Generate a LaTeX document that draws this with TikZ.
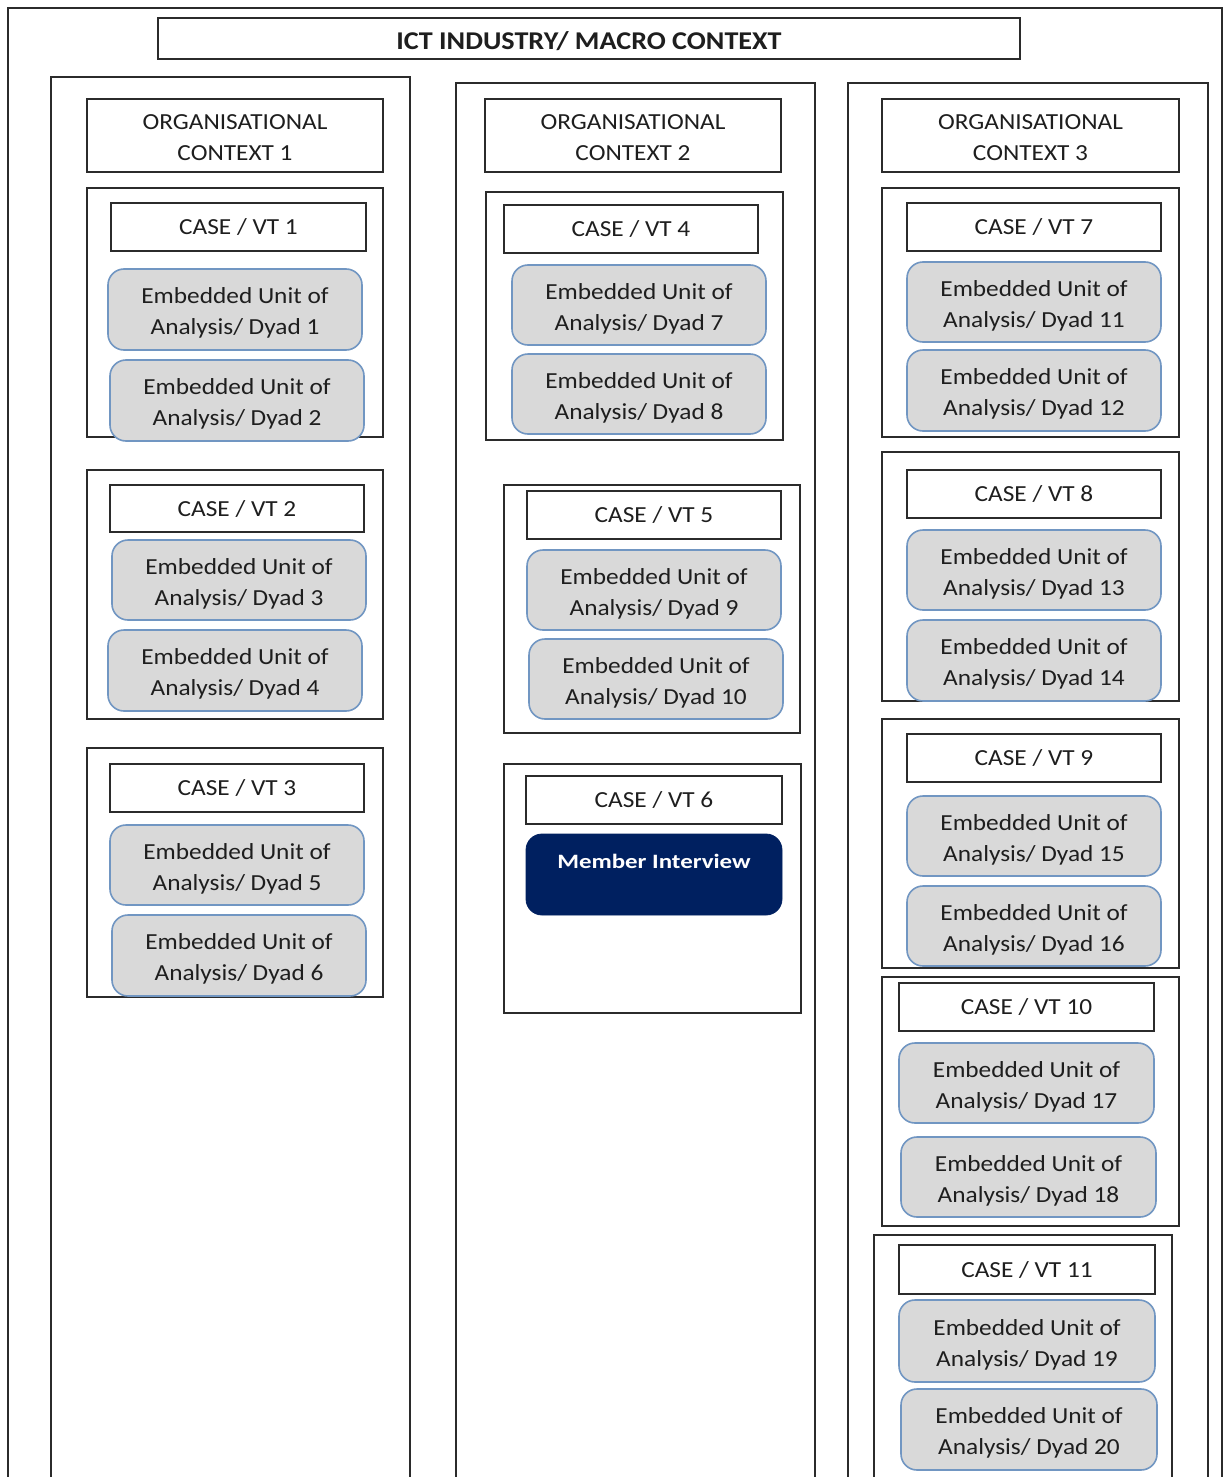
\documentclass[tikz,border=0pt]{standalone}
\usepackage{fontspec}
\setmainfont{Carlito}[FakeStretch=1.1]
\newfontfamily\memberfont{Carlito}[FakeStretch=1.22]
\definecolor{ink}{HTML}{1E1E1E}
\definecolor{framecol}{HTML}{2B2B2B}
\definecolor{dyadfill}{HTML}{D9D9D9}
\definecolor{dyadedge}{HTML}{7196C2}
\definecolor{navy}{HTML}{002060}

% box from corner (x1,y1) to corner (x2,y2), in pixel units
\newcommand\placebox[7]{%
  \node[#2, minimum width={(#5-#3)*0.5pt}, minimum height={(#6-#4)*0.5pt}]
    (#1) at ({(#3+#5)/2},{(#4+#6)/2}) {#7};}
% embedded unit of analysis box: name, corners, dyad number
\newcommand\dyadbox[6]{%
  \placebox{#1}{dyad}{#2}{#3}{#4}{#5}{\rule{0pt}{11.4pt}Embedded Unit of\\Analysis/ Dyad #6}}
% organisational context header: name, corners, number
\newcommand\orgcontext[6]{%
  \placebox{#1}{hdr}{#2}{#3}{#4}{#5}{\rule{0pt}{9.5pt}ORGANISATIONAL\\CONTEXT #6}}

\tikzset{
  frame/.style={draw=framecol, line width=1pt, inner sep=0pt, outer sep=0pt},
  txt/.style={text=ink, align=center, font=\fontsize{11.5}{15.5}\selectfont},
  hdr/.style={frame, txt},
  titlebox/.style={frame, text=ink, font=\fontsize{12.8}{15}\selectfont\bfseries,
    execute at begin node={\rule{0pt}{11.3pt}}},
  dyad/.style={draw=dyadedge, fill=dyadfill, line width=0.8pt, rounded corners=8pt,
    inner sep=0pt, outer sep=0pt, txt},
  memberbox/.style={draw=navy, fill=navy, rounded corners=8pt, inner xsep=0pt,
    inner ysep=0pt, text=white, text height=17pt, text depth=23.5pt,
    font=\memberfont\fontsize{10.2}{12}\selectfont\bfseries},
}

\begin{document}
\begin{tikzpicture}[x=0.5pt, y=-0.5pt]
\useasboundingbox[fill=white] (0,0) rectangle (1225,1477);
\clip (0,0) rectangle (1225,1477);

% industry frame and title
\placebox{industry}{frame}{8}{8}{1222}{1520}{}
\placebox{title}{titlebox}{158}{18}{1020}{59}{ICT INDUSTRY/ MACRO CONTEXT}

% organisational columns
\placebox{col1}{frame}{51}{77}{410}{1520}{}
\placebox{col2}{frame}{456}{83}{815}{1520}{}
\placebox{col3}{frame}{848}{83}{1208}{1520}{}

\orgcontext{org1}{87}{99}{383}{172}{1}
\orgcontext{org2}{485}{99}{781}{172}{2}
\orgcontext{org3}{882}{99}{1179}{172}{3}

% ---- context 1 ----
\placebox{g1}{frame}{87}{188}{383}{437}{}
\placebox{vt1}{hdr}{111}{203}{366}{251}{CASE / VT 1}
\dyadbox{d1}{108}{269}{362}{350}{1}
\dyadbox{d2}{110}{360}{364}{441}{2}

\placebox{g2}{frame}{87}{470}{383}{719}{}
\placebox{vt2}{hdr}{110}{485}{364}{532}{CASE / VT 2}
\dyadbox{d3}{112}{540}{366}{620}{3}
\dyadbox{d4}{108}{630}{362}{711}{4}

\placebox{g3}{frame}{87}{748}{383}{997}{}
\placebox{vt3}{hdr}{110}{764}{364}{812}{CASE / VT 3}
\dyadbox{d5}{110}{825}{364}{905}{5}
\dyadbox{d6}{112}{915}{366}{996}{6}

% ---- context 2 ----
\placebox{g4}{frame}{486}{192}{783}{440}{}
\placebox{vt4}{hdr}{504}{205}{758}{253}{CASE / VT 4}
\dyadbox{d7}{512}{265}{766}{345}{7}
\dyadbox{d8}{512}{354}{766}{434}{8}

\placebox{g5}{frame}{504}{485}{800}{733}{}
\placebox{vt5}{hdr}{527}{491}{781}{539}{CASE / VT 5}
\dyadbox{d9}{527}{550}{781}{630}{9}
\dyadbox{d10}{529}{639}{783}{719}{10}

\placebox{g6}{frame}{504}{764}{801}{1013}{}
\placebox{vt6}{hdr}{526}{776}{782}{824}{CASE / VT 6}
\placebox{member}{memberbox}{526}{834}{782}{915}{Member Interview}

% ---- context 3 ----
\placebox{g7}{frame}{882}{188}{1179}{437}{}
\placebox{vt7}{hdr}{907}{203}{1161}{251}{CASE / VT 7}
\dyadbox{d11}{907}{262}{1161}{342}{11}
\dyadbox{d12}{907}{350}{1161}{431}{12}

\placebox{g8}{frame}{882}{452}{1179}{701}{}
\placebox{vt8}{hdr}{907}{470}{1161}{518}{CASE / VT 8}
\dyadbox{d13}{907}{530}{1161}{610}{13}
\dyadbox{d14}{907}{620}{1161}{701}{14}

\placebox{g9}{frame}{882}{719}{1179}{968}{}
\placebox{vt9}{hdr}{907}{734}{1161}{782}{CASE / VT 9}
\dyadbox{d15}{907}{796}{1161}{876}{15}
\dyadbox{d16}{907}{886}{1161}{966}{16}

\placebox{g10}{frame}{882}{977}{1179}{1226}{}
\placebox{vt10}{hdr}{899}{983}{1154}{1031}{CASE / VT 10}
\dyadbox{d17}{899}{1043}{1154}{1123}{17}
\dyadbox{d18}{901}{1137}{1156}{1217}{18}

\placebox{g11}{frame}{874}{1235}{1172}{1520}{}
\placebox{vt11}{hdr}{899}{1245}{1155}{1294}{CASE / VT 11}
\dyadbox{d19}{899}{1300}{1155}{1382}{19}
\dyadbox{d20}{901}{1389}{1157}{1470}{20}
\end{tikzpicture}
\end{document}
